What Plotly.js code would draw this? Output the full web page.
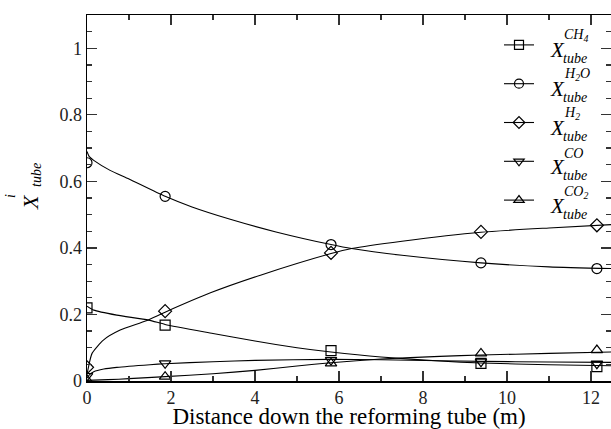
<!DOCTYPE html>
<html>
<head>
<meta charset="utf-8">
<script src="https://cdn.plot.ly/plotly-3.0.1.min.js"></script>
<style>html,body{margin:0;padding:0;background:#fff;}#chart{width:611px;height:429px;}</style>
</head>
<body>
<div id="chart"></div>
<script>
// Marker (discrete) data
const markerX = [0, 1.86, 5.81, 9.38, 12.14];
const ch4Pts = [0.22, 0.168, 0.091, 0.053, 0.043];
const h2oPts = [0.656, 0.555, 0.41, 0.355, 0.338];
const h2Pts  = [0.041, 0.21, 0.385, 0.448, 0.468];
const coPts  = [0.015, 0.053, 0.063, 0.058, 0.052];
const co2Pts = [0.003, 0.013, 0.053, 0.083, 0.093];

// Model curves
const ch4CurveX = [0, 0.16, 0.71, 1.47, 1.86, 3, 4, 5, 5.81, 7, 8.4, 9.38, 11, 12.48];
const ch4CurveY = [0.225, 0.213, 0.198, 0.183, 0.17, 0.143, 0.12, 0.1, 0.087, 0.072, 0.06, 0.054, 0.049, 0.046];
const h2oCurveX = [0, 0.05, 0.16, 0.55, 1, 1.86, 2.5, 3.41, 4.5, 5.81, 6.3, 7.5, 9.38, 11, 12.48];
const h2oCurveY = [0.69, 0.675, 0.663, 0.633, 0.607, 0.555, 0.523, 0.486, 0.448, 0.41, 0.398, 0.378, 0.355, 0.343, 0.338];
const h2CurveX = [0, 0.04, 0.12, 0.39, 0.79, 1.41, 1.86, 2.94, 4.13, 5.81, 6.3, 7.5, 9.38, 11, 12.48];
const h2CurveY = [0.02, 0.045, 0.083, 0.123, 0.153, 0.181, 0.207, 0.265, 0.318, 0.383, 0.398, 0.42, 0.447, 0.46, 0.47];
const coCurveX = [0, 0.05, 0.16, 0.4, 0.71, 1.5, 1.86, 3, 4, 5.81, 7, 8.4, 9.38, 11, 12.48];
const coCurveY = [0.008, 0.018, 0.028, 0.036, 0.041, 0.049, 0.052, 0.058, 0.062, 0.065, 0.064, 0.061, 0.059, 0.057, 0.056];
const co2CurveX = [0, 0.5, 1, 1.86, 3, 4, 5, 5.81, 7, 8.4, 9.38, 11, 12.48];
const co2CurveY = [0.002, 0.004, 0.007, 0.013, 0.022, 0.032, 0.045, 0.055, 0.066, 0.074, 0.078, 0.083, 0.087];

const species = [
  {sup: 'CH<sub>4</sub>', sym: 'square-open', pts: ch4Pts, cx: ch4CurveX, cy: ch4CurveY},
  {sup: 'H<sub>2</sub>O', sym: 'circle-open', pts: h2oPts, cx: h2oCurveX, cy: h2oCurveY},
  {sup: 'H<sub>2</sub>', sym: 'diamond-open', pts: h2Pts, cx: h2CurveX, cy: h2CurveY},
  {sup: 'CO', sym: 'triangle-down-open', pts: coPts, cx: coCurveX, cy: coCurveY},
  {sup: 'CO<sub>2</sub>', sym: 'triangle-up-open', pts: co2Pts, cx: co2CurveX, cy: co2CurveY}
];

const SERIF = 'Liberation Serif, Times New Roman, serif';
const traces = [];
species.forEach((s, i) => {
  traces.push({x: s.cx, y: s.cy, type: 'scatter', mode: 'lines', line: {color: '#000', width: 1.1, shape: 'spline', smoothing: 0.6}, showlegend: false, hoverinfo: 'skip'});
  traces.push({x: markerX, y: s.pts, type: 'scatter', mode: 'markers', marker: {symbol: s.sym, size: 10, color: '#000', line: {width: 1.2, color: '#000'}}, showlegend: false});
});
species.forEach((s, i) => {
  traces.push({x: [null], y: [null], type: 'scatter', mode: 'lines+markers', name: ' ', legendgroup: 'g' + i,
    line: {color: '#000', width: 1.1}, marker: {symbol: s.sym, size: 9, color: '#000', line: {width: 1.2, color: '#000'}}});
});

// paper coordinate helpers (plot area: x 87..611, y 15..381)
const px = v => (v - 87) / 524;
const py = v => (381 - v) / 366;

const annotations = [];
const rowY = [45, 84, 123, 162, 201];
species.forEach((s, i) => {
  const xc = rowY[i] + 5;
  annotations.push({xref: 'paper', yref: 'paper', x: px(557), y: py(xc), text: '<i>X</i>', showarrow: false, xanchor: 'center', yanchor: 'middle', font: {family: SERIF, size: 21, color: '#000'}});
  annotations.push({xref: 'paper', yref: 'paper', x: px(562), y: py(xc - 14), text: '<i>' + s.sup + '</i>', showarrow: false, xanchor: 'left', yanchor: 'middle', font: {family: SERIF, size: 14, color: '#000'}});
  annotations.push({xref: 'paper', yref: 'paper', x: px(561), y: py(xc + 8), text: '<i>tube</i>', showarrow: false, xanchor: 'left', yanchor: 'middle', font: {family: SERIF, size: 14, color: '#000'}});
});
// y-axis title (rotated)
annotations.push({xref: 'paper', yref: 'paper', x: px(30), y: py(202), text: '<i>X</i>', textangle: -90, showarrow: false, xanchor: 'center', yanchor: 'middle', font: {family: SERIF, size: 22, color: '#000'}});
annotations.push({xref: 'paper', yref: 'paper', x: px(10), y: py(196), text: '<i>i</i>', textangle: -90, showarrow: false, xanchor: 'center', yanchor: 'middle', font: {family: SERIF, size: 14, color: '#000'}});
annotations.push({xref: 'paper', yref: 'paper', x: px(36), y: py(175), text: '<i>tube</i>', textangle: -90, showarrow: false, xanchor: 'center', yanchor: 'middle', font: {family: SERIF, size: 14, color: '#000'}});

const axisCommon = {
  showgrid: false, zeroline: false, showline: true, linecolor: '#000', linewidth: 1.5,
  mirror: 'allticks', ticks: 'inside', ticklen: 10, tickwidth: 1.2, tickcolor: '#333',
  tickfont: {family: SERIF, size: 18, color: '#222'}, automargin: false,
  minor: {ticks: 'inside', ticklen: 5, tickwidth: 1.2, tickcolor: '#333', showgrid: false}
};

const layout = {
  width: 611, height: 429,
  margin: {l: 87, r: 0, t: 15, b: 48},
  paper_bgcolor: '#fff', plot_bgcolor: '#fff',
  showlegend: true,
  legend: {x: px(499), y: py(28), xanchor: 'left', yanchor: 'top', bgcolor: 'rgba(0,0,0,0)', borderwidth: 0,
    font: {family: SERIF, size: 16}, tracegroupgap: 15, itemwidth: 30},
  xaxis: Object.assign({}, axisCommon, {range: [0, 12.476], dtick: 2, tick0: 0, minor: Object.assign({}, axisCommon.minor, {dtick: 1}),
    title: {text: 'Distance down the reforming tube (m)', font: {family: SERIF, size: 23, color: '#000'}, standoff: 10}}),
  yaxis: Object.assign({}, axisCommon, {range: [0, 1.1], dtick: 0.2, tick0: 0, minor: Object.assign({}, axisCommon.minor, {dtick: 0.05})}),
  annotations: annotations
};

Plotly.newPlot('chart', traces, layout, {displayModeBar: false, staticPlot: true});
</script>
</body>
</html>
